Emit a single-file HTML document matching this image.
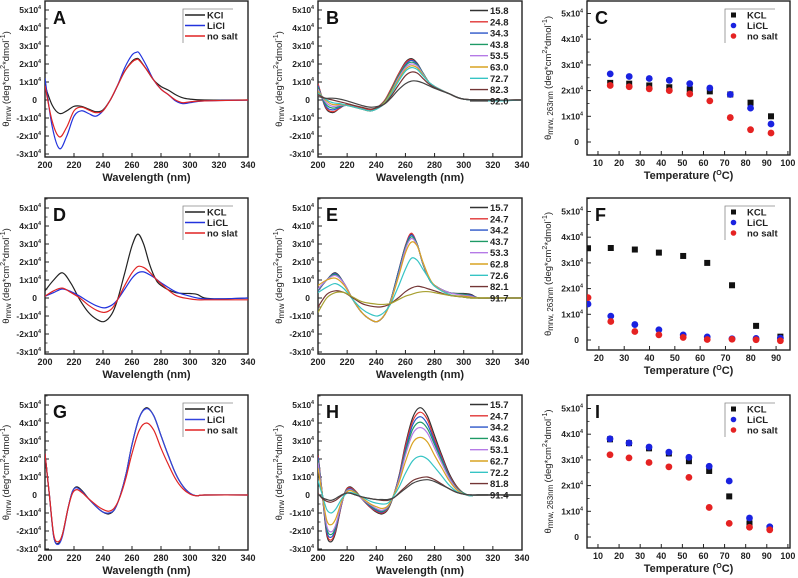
<!DOCTYPE html>
<html><head><meta charset="utf-8"><style>
html,body{margin:0;padding:0;background:#fff}
svg{display:block;font-family:"Liberation Sans",Arial,sans-serif}
</style></head><body>
<svg id="fig" width="798" height="578" viewBox="0 0 798 578" xmlns="http://www.w3.org/2000/svg"></svg>
<script>
// ---------- DATA (values in units of 1e4 deg*cm2*dmol-1) ----------
const wlA = [200,205,210,215,220,225,230,235,240,245,250,255,260,263,265,270,275,280,285,290,295,300,310,340];
const aKCl = [0.8,-0.3,-0.75,-0.6,-0.35,-0.35,-0.5,-0.65,-0.55,0,0.8,1.6,2.15,2.3,2.25,1.7,1.1,0.75,0.55,0.3,0.12,0.05,0,0];
const aLiCl = [1.2,-1.5,-2.7,-2.0,-0.9,-0.6,-0.75,-0.9,-0.6,0,0.8,1.8,2.5,2.65,2.6,1.9,1.1,0.6,0.3,-0.05,-0.2,-0.15,-0.05,0];
const aNoSalt = [0.8,-1.2,-2.05,-1.5,-0.6,-0.4,-0.55,-0.7,-0.6,0,0.8,1.6,2.1,2.25,2.2,1.7,1.1,0.6,0.3,0,-0.15,-0.1,-0.05,0];

const wlB = [200,205,210,215,220,230,237,245,250,255,260,264,268,272,276,280,290,300,320,340];
const bTemps = ["15.8","24.8","34.3","43.8","53.5","63.0","72.7","82.3","92.0"];
const b1 = [0.9,-0.4,-0.7,-0.45,-0.25,-0.45,-0.55,-0.1,0.6,1.4,2.1,2.3,2.05,1.5,1.0,0.75,0.35,0.05,0,0];
const b2 = [0.9,-0.35,-0.65,-0.45,-0.25,-0.45,-0.55,-0.1,0.6,1.4,2.05,2.25,2.0,1.5,1.0,0.75,0.35,0.05,0,0];
const b3 = [0.8,-0.3,-0.55,-0.4,-0.3,-0.5,-0.6,-0.15,0.5,1.3,1.95,2.2,2.0,1.5,1.0,0.75,0.35,0.05,0,0];
const b4 = [0.7,-0.2,-0.45,-0.35,-0.3,-0.5,-0.6,-0.15,0.5,1.3,1.9,2.1,1.95,1.5,1.0,0.75,0.35,0.05,0,0];
const b5 = [0.6,-0.1,-0.35,-0.3,-0.3,-0.5,-0.6,-0.2,0.4,1.2,1.8,2.0,1.9,1.45,1.0,0.75,0.35,0.05,0,0];
const b6 = [0.5,0,-0.25,-0.25,-0.3,-0.5,-0.6,-0.2,0.4,1.1,1.7,1.9,1.8,1.4,1.0,0.75,0.35,0.05,0,0];
const b7 = [0.4,0.05,-0.15,-0.2,-0.3,-0.5,-0.6,-0.25,0.3,1.0,1.6,1.8,1.7,1.35,1.0,0.75,0.35,0.05,-0.05,0];
const b8 = [0.3,0.1,0,-0.1,-0.2,-0.4,-0.5,-0.25,0.2,0.8,1.35,1.55,1.5,1.2,0.9,0.7,0.35,0.05,0,0];
const b9 = [0.2,0.1,0.1,0.05,-0.05,-0.3,-0.4,-0.25,0.1,0.55,0.9,1.05,1.05,0.95,0.8,0.65,0.35,0.05,0,0];

const wlD = [200,206,212,218,224,230,236,241,246,250,255,260,264,268,272,276,280,290,300,305,310,320,340];
const dKCL = [0.4,1.0,1.4,0.8,-0.1,-0.8,-1.2,-1.3,-0.9,-0.1,1.4,2.9,3.55,3.0,1.9,1.1,0.7,0.3,0.25,0.2,0,-0.05,0];
const dLiCL = [0.1,0.3,0.5,0.35,0.1,-0.2,-0.45,-0.55,-0.4,-0.1,0.5,1.1,1.4,1.45,1.3,1.1,0.85,0.35,0.1,0,-0.05,-0.05,0];
const dNoSalt = [0.1,0.4,0.55,0.3,0,-0.4,-0.7,-0.8,-0.6,-0.1,0.7,1.4,1.75,1.7,1.45,1.1,0.8,0.15,-0.05,-0.1,-0.1,-0.1,-0.1];

const eTemps = ["15.7","24.7","34.2","43.7","53.3","62.8","72.6","82.1","91.7"];
const e1 = [0.4,1.0,1.4,0.8,-0.1,-0.8,-1.2,-1.3,-0.9,-0.1,1.4,2.9,3.55,3.0,1.9,1.1,0.7,0.3,0.25,0.2,0,0,0];
const e2 = [0.4,1.0,1.35,0.8,-0.1,-0.8,-1.2,-1.3,-0.9,-0.1,1.4,2.9,3.6,3.0,1.9,1.1,0.7,0.3,0.2,0.15,0,0,0];
const e3 = [0.4,1.0,1.35,0.8,-0.1,-0.8,-1.2,-1.3,-0.9,-0.1,1.4,2.85,3.5,3.0,1.9,1.1,0.7,0.3,0.2,0.15,0,0,0];
const e4 = [0.45,1.0,1.3,0.8,-0.1,-0.8,-1.2,-1.3,-0.9,-0.1,1.3,2.8,3.4,3.0,1.9,1.1,0.7,0.3,0.2,0.1,0,0,0];
const e5 = [0.5,1.0,1.25,0.8,-0.1,-0.8,-1.2,-1.3,-0.9,-0.15,1.2,2.7,3.3,2.95,1.95,1.15,0.7,0.3,0.15,0.1,0,0,0];
const e6 = [0.7,1.0,1.1,0.7,-0.1,-0.8,-1.2,-1.3,-0.9,-0.2,1.1,2.5,3.1,2.9,2.0,1.2,0.7,0.2,0.1,0.05,0,0,0];
const e7 = [0.3,0.6,0.8,0.5,-0.1,-0.6,-0.9,-1.0,-0.75,-0.3,0.6,1.6,2.2,2.1,1.6,1.1,0.65,0.2,0.05,0,0,0,0];
const e8 = [-0.5,0.2,0.4,0.3,0,-0.3,-0.45,-0.5,-0.45,-0.3,0,0.35,0.55,0.65,0.6,0.5,0.4,0.15,0.05,0,0,0,0];
const e9 = [-0.8,0,0.3,0.3,0.05,-0.2,-0.3,-0.35,-0.35,-0.3,-0.1,0.1,0.2,0.3,0.35,0.35,0.3,0.15,0.05,0,0,0,0];

const wlG = [200,203,206,209,212,216,219,222,226,230,236,240,244,248,252,256,260,265,270,275,280,285,290,295,300,305,310,340];
const gKCl = [2.3,0,-2.3,-2.7,-2.2,-0.7,0.2,0.45,0.2,-0.2,-0.7,-0.95,-1.05,-0.8,0,1.2,2.8,4.3,4.85,4.4,3.3,2.2,1.2,0.5,0.1,-0.05,0,0];
const gLiCl = [2.3,0,-2.3,-2.75,-2.3,-0.7,0.2,0.4,0.15,-0.2,-0.7,-0.95,-1.0,-0.8,0,1.2,2.8,4.3,4.8,4.4,3.3,2.2,1.2,0.5,0.1,-0.05,0,0];
const gNoSalt = [2.3,0,-2.2,-2.6,-2.2,-0.7,0.1,0.3,0.1,-0.2,-0.6,-0.8,-0.9,-0.7,-0.05,1.0,2.3,3.6,4.0,3.6,2.6,1.7,0.9,0.35,0.05,-0.05,0,0];

const hTemps = ["15.7","24.7","34.2","43.6","53.1","62.7","72.2","81.8","91.4"];
const h1 = [2.3,0,-2.2,-2.6,-2.1,-0.6,0.25,0.45,0.2,-0.2,-0.7,-0.95,-1.05,-0.8,0,1.2,2.8,4.3,4.85,4.4,3.3,2.2,1.2,0.5,0.1,-0.05,0,0];
const h2 = [2.2,0,-2.1,-2.5,-2.0,-0.6,0.25,0.4,0.2,-0.2,-0.7,-0.9,-1.0,-0.75,0,1.15,2.7,4.1,4.6,4.2,3.1,2.1,1.1,0.45,0.1,-0.05,0,0];
const h3 = [2.1,0,-2.0,-2.35,-1.9,-0.55,0.2,0.35,0.15,-0.2,-0.65,-0.85,-0.95,-0.7,0,1.1,2.5,3.9,4.35,3.95,2.95,2.0,1.05,0.4,0.1,-0.05,0,0];
const h4 = [1.9,0,-1.85,-2.2,-1.8,-0.5,0.2,0.3,0.15,-0.2,-0.6,-0.8,-0.9,-0.7,0,1.0,2.35,3.65,4.05,3.7,2.8,1.9,1.0,0.4,0.1,-0.05,0,0];
const h5 = [1.8,0,-1.7,-2.05,-1.7,-0.5,0.15,0.3,0.1,-0.2,-0.55,-0.75,-0.85,-0.65,0,0.95,2.2,3.4,3.75,3.45,2.6,1.75,0.95,0.35,0.05,-0.05,0,0];
const h6 = [1.5,0,-1.4,-1.65,-1.35,-0.4,0.1,0.25,0.1,-0.15,-0.5,-0.65,-0.75,-0.6,0,0.8,1.85,2.9,3.2,2.95,2.2,1.5,0.8,0.3,0.05,-0.05,0,0];
const h7 = [0.8,0,-0.8,-1.0,-0.8,-0.25,0.05,0.15,0.05,-0.1,-0.35,-0.45,-0.5,-0.45,-0.05,0.5,1.2,1.9,2.15,2.0,1.55,1.05,0.55,0.2,0.05,-0.05,0,0];
const h8 = [0.1,-0.2,-0.35,-0.4,-0.3,-0.05,0.1,0.1,0,-0.1,-0.2,-0.25,-0.3,-0.3,-0.15,0.15,0.45,0.8,0.95,1.0,0.85,0.6,0.35,0.15,0.05,0,0,0];
const h9 = [0.05,-0.15,-0.25,-0.3,-0.2,0,0.1,0.1,0,-0.1,-0.2,-0.25,-0.25,-0.25,-0.15,0.1,0.35,0.65,0.8,0.85,0.75,0.55,0.35,0.15,0.05,0,0,0];

const cTemps = [15.8,24.8,34.3,43.8,53.5,63,72.7,82.3,92];
const cKCL = [2.3,2.27,2.2,2.13,2.05,1.97,1.85,1.53,1.0];
const cLiCL = [2.65,2.55,2.47,2.4,2.27,2.1,1.85,1.32,0.7];
const cNoSalt = [2.2,2.15,2.07,2.0,1.87,1.6,0.95,0.48,0.35];

const fTemps = [15.7,24.7,34.2,43.7,53.3,62.8,72.6,82.1,91.7];
const fKCL = [3.57,3.58,3.52,3.4,3.27,3.0,2.13,0.55,0.13];
const fLiCL = [1.4,0.93,0.6,0.4,0.2,0.12,0.05,0.06,0.07];
const fNoSalt = [1.65,0.72,0.33,0.2,0.1,0.02,0.03,0.01,-0.03];

const iTemps = [15.7,24.7,34.2,43.6,53.1,62.7,72.2,81.8,91.4];
const iKCL = [3.8,3.65,3.45,3.25,2.95,2.57,1.58,0.53,0.35];
const iLiCL = [3.82,3.66,3.5,3.3,3.1,2.75,2.18,0.74,0.4];
const iNoSalt = [3.2,3.08,2.9,2.73,2.32,1.15,0.53,0.38,0.28];

const yTicks = [-3,-2,-1,0,1,2,3,4,5];
const wlTicks = [200,220,240,260,280,300,320,340];
const tempColors = ["#333333","#e03333","#2a55c8","#1e9a66","#b57ae6","#d9a322","#36c4c4","#733535","#444444"];

// ---------- DRAWING ----------
const NS = "http://www.w3.org/2000/svg";
const svg = document.getElementById("fig");
function el(tag, attrs, parent, text){
  const e = document.createElementNS(NS, tag);
  for (const k in attrs) e.setAttribute(k, attrs[k]);
  if (text !== undefined) e.textContent = text;
  (parent || svg).appendChild(e);
  return e;
}
function smooth(pts){
  let d = "M" + pts[0][0].toFixed(1) + "," + pts[0][1].toFixed(1);
  for (let i = 0; i < pts.length - 1; i++){
    const p0 = pts[Math.max(0,i-1)], p1 = pts[i], p2 = pts[i+1], p3 = pts[Math.min(pts.length-1,i+2)];
    const c1x = p1[0] + (p2[0]-p0[0])/6, c1y = p1[1] + (p2[1]-p0[1])/6;
    const c2x = p2[0] - (p3[0]-p1[0])/6, c2y = p2[1] - (p3[1]-p1[1])/6;
    d += "C" + c1x.toFixed(1)+","+c1y.toFixed(1)+" "+c2x.toFixed(1)+","+c2y.toFixed(1)+" "+p2[0].toFixed(1)+","+p2[1].toFixed(1);
  }
  return d;
}
function sup(parent, x, y, base, exp, anchor, size){
  const t = el("text", {x:x, y:y, "text-anchor":anchor, "font-size":size, "font-weight":"bold", fill:"#222"}, parent);
  const a = document.createElementNS(NS,"tspan"); a.textContent = base; t.appendChild(a);
  if (exp){ const b = document.createElementNS(NS,"tspan"); b.setAttribute("dy","-4"); b.setAttribute("font-size", size*0.6); b.textContent = exp; t.appendChild(b); }
  return t;
}

function panel(o){
  const g = el("g", {});
  
  
  const sx = v => o.x0 + (v - o.xmin) / (o.xmax - o.xmin) * (o.x1 - o.x0);
  const sy = v => o.zero - v * o.unit;
  // box
  const box = el("rect", {x:o.x0, y:o.top, width:o.x1-o.x0, height:o.bottom-o.top, fill:"none", stroke:"#222", "stroke-width":1.4}, g);
  
  
  // y ticks
  const yt = el("g", {}, g);
  
  
  for (const v of o.yTicks){
    const y = sy(v);
    el("line", {x1:o.x0, x2:o.x0+4, y1:y, y2:y, stroke:"#222", "stroke-width":1}, yt);
    el("line", {x1:o.x0, x2:o.x0+2.5, y1:y-o.unit/2, y2:y-o.unit/2, stroke:"#222", "stroke-width":0.8}, yt);
    if (v === 0) el("text", {x:o.x0-8, y:y+3, "text-anchor":"end", "font-size":8.5, "font-weight":"bold", fill:"#222"}, yt, "0");
    else sup(yt, o.x0-4, y+3, v + "x10", "4", "end", 8.5);
  }
  // x ticks
  const xt = el("g", {}, g);
  
  
  for (const v of o.xTicks){
    const x = sx(v);
    el("line", {x1:x, x2:x, y1:o.bottom, y2:o.bottom-4, stroke:"#222", "stroke-width":1}, xt);
    el("text", {x:x, y:o.bottom+11, "text-anchor":"middle", "font-size":9, "font-weight":"bold", fill:"#222"}, xt, String(v));
  }
  // titles
  const xtit = el("text", {x:(o.x0+o.x1)/2, y:o.bottom+24, "text-anchor":"middle", "font-size":11, "font-weight":"bold", fill:"#222"}, g);
  
  
  if (o.scatter){
    xtit.innerHTML = 'Temperature (<tspan dy="-4" font-size="7">O</tspan><tspan dy="4">C)</tspan>';
  } else xtit.textContent = "Wavelength (nm)";
  const cy = (o.top+o.bottom)/2, tx = o.x0 - 36;
  const ytit = el("text", {x:tx, y:cy, transform:"rotate(-90 "+tx+" "+cy+")", "text-anchor":"middle", "font-size":9.5, fill:"#222"}, g);
  
  
  ytit.innerHTML = 'θ<tspan font-size="8" dy="2">mrw' + (o.scatter ? ', 263nm ' : ' ') + '</tspan><tspan dy="-2">(deg*cm</tspan><tspan dy="-4" font-size="7">2</tspan><tspan dy="4">*dmol</tspan><tspan dy="-4" font-size="7">-1</tspan><tspan dy="4">)</tspan>';
  // letter
  const lt = el("text", {x:o.x0+8, y:o.top+23, "font-size":18, "font-weight":"bold", fill:"#111"}, g, o.letter);
  
  
  // clip
  const cid = "c" + o.letter;
  const cp = el("clipPath", {id:cid}, g);
  el("rect", {x:o.x0, y:o.top, width:o.x1-o.x0, height:o.bottom-o.top}, cp);
  const plot = el("g", {"clip-path":"url(#"+cid+")"}, g);
  // series
  o.series.forEach((s, i) => {
    if (o.scatter){
      const sg = el("g", {}, plot);
      
      
      s.vals.forEach((v, j) => {
        const x = sx(s.xs[j]), y = sy(v);
        let m;
        if (s.shape === "sq") m = el("rect", {x:x-3, y:y-3, width:6, height:6, fill:s.color}, sg);
        else m = el("circle", {cx:x, cy:y, r:3.4, fill:s.color}, sg);
        
        
      });
    } else {
      const pts = s.vals.map((v, j) => [sx(s.xs[j]), sy(v)]);
      const p = el("path", {d:smooth(pts), fill:"none", stroke:s.color, "stroke-width":s.w || 1.2}, plot);
      
      
    }
  });
  // legend
  const lg = el("g", {}, g);
  
  
  if (o.series.length <= 3){
    const lx = o.x1 - 65, ly = o.top + 8;
    el("path", {d:"M"+(lx)+","+(ly+34)+"V"+ly+"H"+(lx+50), fill:"none", stroke:"#888", "stroke-width":0.8}, lg);
    o.series.forEach((s, i) => {
      const y = ly + 6 + i * 10.5;
      const e = el("g", {}, lg);
      
      
      if (o.scatter){
        if (s.shape === "sq") el("rect", {x:lx+6, y:y-2.5, width:5, height:5, fill:s.color}, e);
        else el("circle", {cx:lx+8.5, cy:y, r:2.8, fill:s.color}, e);
        el("text", {x:lx+22, y:y+3.5, "font-size":9.5, "font-weight":"bold", fill:"#222"}, e, s.label);
      } else {
        el("line", {x1:lx+2, x2:lx+22, y1:y, y2:y, stroke:s.color, "stroke-width":1.6}, e);
        el("text", {x:lx+24, y:y+3.5, "font-size":9.5, "font-weight":"bold", fill:"#222"}, e, s.label);
      }
    });
  } else {
    o.series.forEach((s, i) => {
      const y = o.top + 9.5 + i * 11.3;
      const e = el("g", {}, lg);
      
      
      el("line", {x1:o.x1-52, x2:o.x1-34, y1:y, y2:y, stroke:s.color, "stroke-width":1.4}, e);
      el("text", {x:o.x1-32, y:y+3.5, "font-size":9.5, "font-weight":"bold", fill:"#222"}, e, s.label);
    });
  }
}

const cols = [[45,248],[318,522],[587,790]];
const rows = [{top:1, zero:100, bottom:157, szero:142, stop:1, sbottom:155},
              {top:198, zero:298, bottom:354, szero:340, stop:198, sbottom:350},
              {top:395, zero:495, bottom:550, szero:537, stop:395, sbottom:548}];
function spec(letter, r, c, series){
  panel({name:"panel-"+letter.toLowerCase(), letter, x0:cols[c][0], x1:cols[c][1], xmin:200, xmax:340,
    top:rows[r].top, bottom:rows[r].bottom, zero:rows[r].zero, unit:18, yTicks, xTicks:wlTicks, series});
}
function multi(temps, arrs, xs, lastColor){
  return arrs.map((a, i) => ({label:temps[i], xs, vals:a, color: i === 8 && lastColor ? lastColor : tempColors[i]}));
}
spec("A", 0, 0, [{label:"KCl", xs:wlA, vals:aKCl, color:"#222"},{label:"LiCl", xs:wlA, vals:aLiCl, color:"#2233dd"},{label:"no salt", xs:wlA, vals:aNoSalt, color:"#e02424"}]);
spec("B", 0, 1, multi(bTemps, [b1,b2,b3,b4,b5,b6,b7,b8,b9], wlB));
spec("D", 1, 0, [{label:"KCL", xs:wlD, vals:dKCL, color:"#222"},{label:"LiCL", xs:wlD, vals:dLiCL, color:"#2233dd"},{label:"no slat", xs:wlD, vals:dNoSalt, color:"#e02424"}]);
spec("E", 1, 1, multi(eTemps, [e1,e2,e3,e4,e5,e6,e7,e8,e9], wlD, "#a8a030"));
spec("G", 2, 0, [{label:"KCl", xs:wlG, vals:gKCl, color:"#222"},{label:"LiCl", xs:wlG, vals:gLiCl, color:"#3344dd"},{label:"no salt", xs:wlG, vals:gNoSalt, color:"#e02424"}]);
spec("H", 2, 1, multi(hTemps, [h1,h2,h3,h4,h5,h6,h7,h8,h9], wlG));

function scat(letter, r, xmin, xmax, xTicks, temps, k, l, n){
  panel({name:"panel-"+letter.toLowerCase(), letter, scatter:true, x0:cols[2][0], x1:cols[2][1], xmin, xmax,
    top:rows[r].stop, bottom:rows[r].sbottom, zero:rows[r].szero, unit:25.7, yTicks:[0,1,2,3,4,5], xTicks,
    series:[{label:"KCL", xs:temps, vals:k, color:"#111", shape:"sq"},{label:"LiCL", xs:temps, vals:l, color:"#1a22e0"},{label:"no salt", xs:temps, vals:n, color:"#e52222"}]});
}
scat("C", 0, 4.8, 101, [10,20,30,40,50,60,70,80,90,100], cTemps, cKCL, cLiCL, cNoSalt);
scat("F", 1, 15.3, 95.5, [20,30,40,50,60,70,80,90], fTemps, fKCL, fLiCL, fNoSalt);
scat("I", 2, 4.8, 101, [10,20,30,40,50,60,70,80,90,100], iTemps, iKCL, iLiCL, iNoSalt);
</script>
</body></html>
